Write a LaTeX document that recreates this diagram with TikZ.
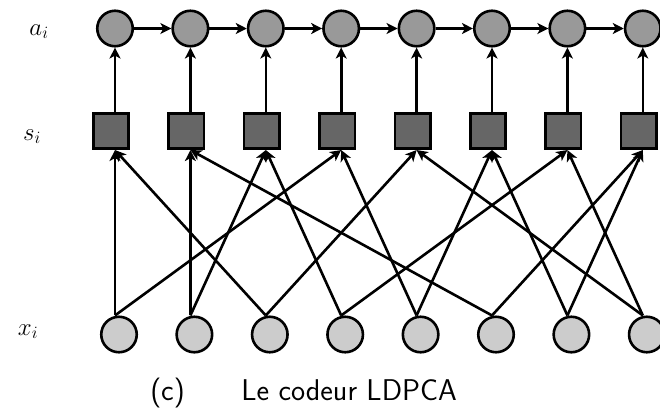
\documentclass[tikz,border=0pt]{standalone}
\usetikzlibrary{arrows.meta,calc}
\definecolor{topfill}{gray}{0.6}
\definecolor{sqfill}{gray}{0.4}
\definecolor{botfill}{gray}{0.8}
\begin{document}
\begin{tikzpicture}[x=1pt,y=1pt,line width=2.6pt,
  anode/.style={circle,draw,fill=topfill,minimum size=35.5pt,inner sep=0pt},
  snode/.style={rectangle,draw,fill=sqfill,minimum size=35.5pt,inner sep=0pt},
  xnode/.style={circle,draw,fill=botfill,minimum size=35.5pt,inner sep=0pt},
  arr/.style={-{Stealth[length=11pt,width=11pt,inset=3pt]}},
  lbl/.style={anchor=base,inner sep=0pt,font=\fontsize{26}{30}\selectfont},
  captxt/.style={anchor=base,inner sep=0pt,font=\sffamily\fontsize{30}{34}\selectfont}]
\clip (0,0) rectangle (660,-408);
% three rows of nodes: a (top), s (middle), x (bottom)
\foreach \i in {1,...,8} {
  \pgfmathsetmacro\cx{115+75.4*(\i-1)}
  \node[anode] (a\i) at (\cx,-28.5) {};
  \node[snode] (s\i) at (\cx-4,-131) {};
  \node[xnode] (x\i) at (\cx+4,-334.5) {};
}
% chain along the top row
\foreach \i [evaluate=\i as \j using int(\i+1)] in {1,...,7}
  \draw[arr] (a\i) -- (a\j);
% s -> a
\foreach \i in {1,...,8}
  \draw[arr] ([xshift=4pt]s\i.north) -- (a\i.south);
% x -> s (each x feeds two checks)
\foreach \p/\q in {1/1,1/4,2/2,2/3,3/1,3/5,4/3,4/7,5/4,5/6,6/2,6/8,7/6,7/8,8/5,8/7}
  \draw[arr] ([xshift=-4pt]x\p.north) -- ([xshift=4pt]s\q.south);
% row labels
\node[lbl] (la) at (39,-35) {$a_i$};
\node[lbl] (ls) at (32,-140) {$s_i$};
\node[lbl] (lx) at (28,-335) {$x_i$};
% caption
\node[captxt] (capl) at (167.5,-400) {(c)};
\node[captxt,anchor=base west] (capt) at (240,-400) {Le codeur LDPCA};
\end{tikzpicture}
\end{document}
